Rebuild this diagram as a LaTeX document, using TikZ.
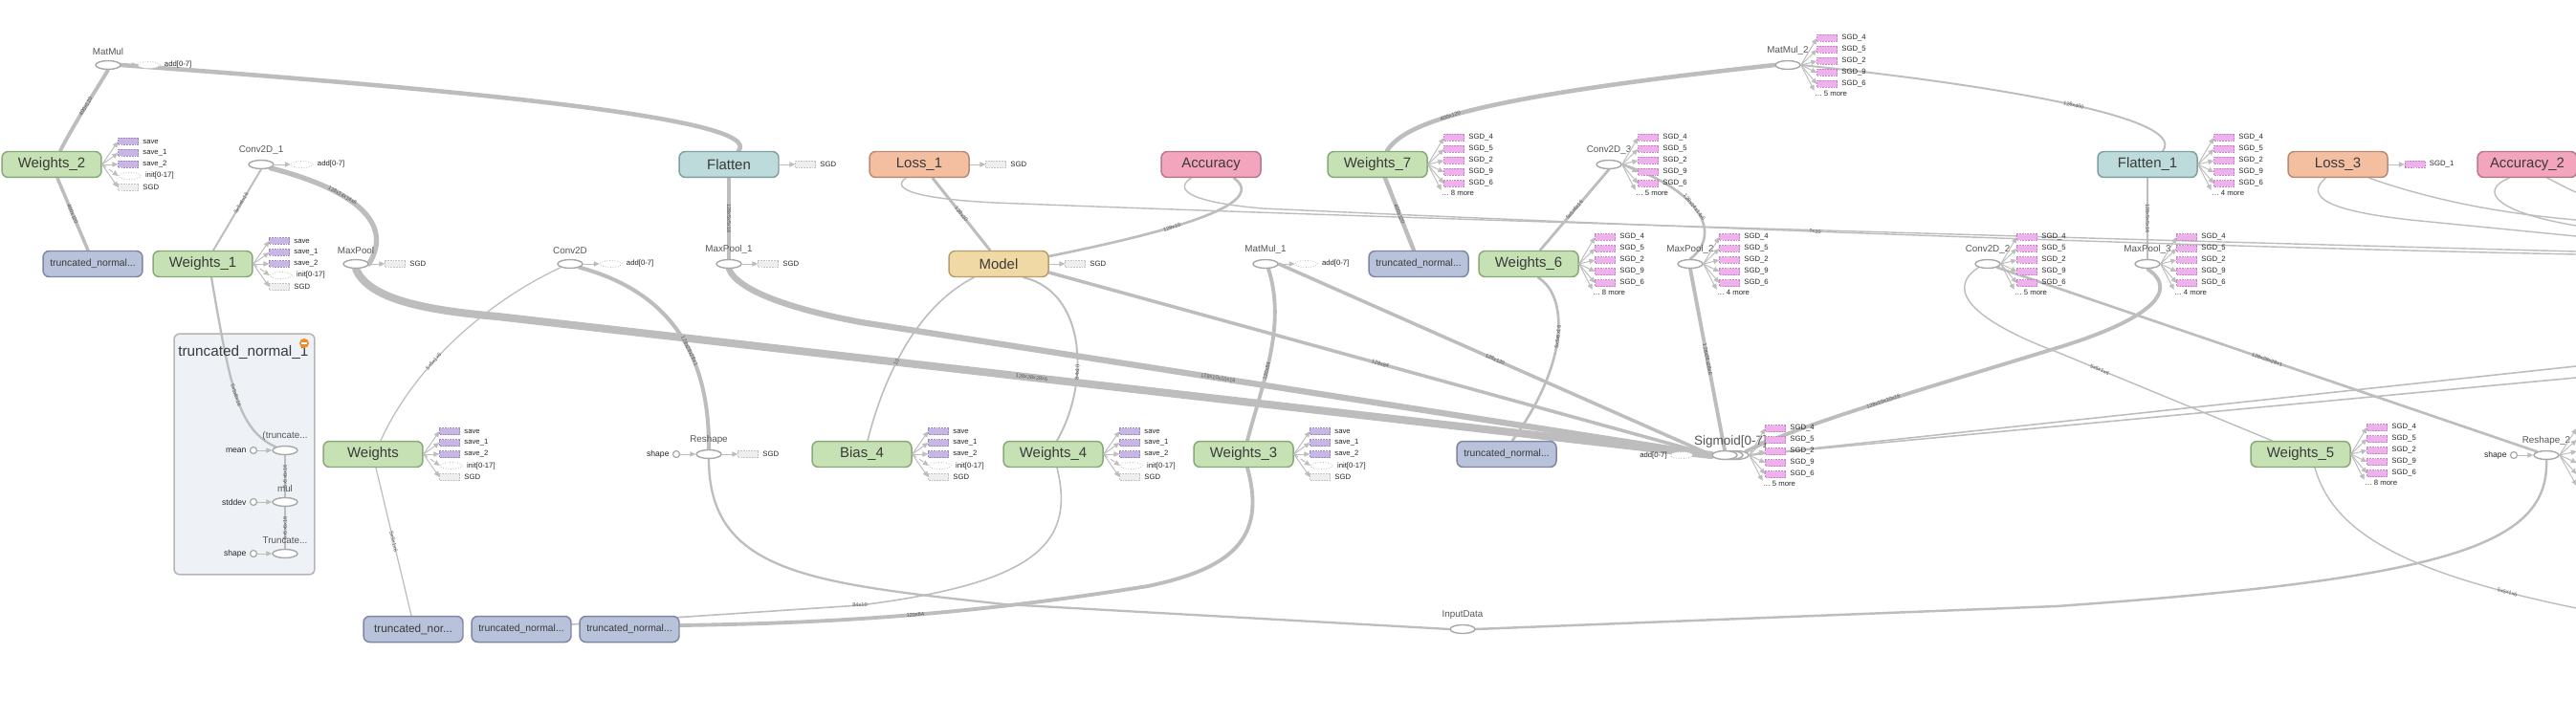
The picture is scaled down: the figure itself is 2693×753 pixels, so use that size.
\documentclass[tikz,border=0pt]{standalone}
\usepackage{fontspec}
\setmainfont{Liberation Sans}
\usepackage{tikz}
\usetikzlibrary{positioning, arrows.meta, calc, shapes.geometric}
\usepackage{xcolor}
\definecolor{tbVerde}{HTML}{C6E1B4}
\definecolor{tbVerdeB}{HTML}{89A87A}
\definecolor{tbAzul}{HTML}{BDDBDA}
\definecolor{tbAzulB}{HTML}{819F9E}
\definecolor{tbNaranja}{HTML}{F4BFA1}
\definecolor{tbNaranjaB}{HTML}{B88B76}
\definecolor{tbRosa}{HTML}{F3A5BE}
\definecolor{tbRosaB}{HTML}{B27A8B}
\definecolor{tbArena}{HTML}{F1D9A5}
\definecolor{tbArenaB}{HTML}{B59F6E}
\definecolor{tbLila}{HTML}{B8C2DB}
\definecolor{tbLilaB}{HTML}{7D87A1}
\definecolor{tbGrupo}{HTML}{EEF1F6}
\definecolor{tbGrupoB}{HTML}{B4B4B4}
\definecolor{tbArista}{HTML}{BDBDBD}
\definecolor{tbOp}{HTML}{A8A8A8}
\definecolor{tbMorado}{HTML}{C8B7E5}
\definecolor{tbMoradoB}{HTML}{9C88C4}
\definecolor{tbFucsia}{HTML}{EDB1EB}
\definecolor{tbFucsiaB}{HTML}{C783C4}
\definecolor{tbGris}{HTML}{EEEEEE}
\definecolor{tbGrisB}{HTML}{C2C2C2}
\definecolor{tbTexto}{HTML}{3A3A3A}
\definecolor{tbTextoOp}{HTML}{555555}
\definecolor{tbBoton}{HTML}{F08C25}
\pgfdeclarelayer{fondo}
\pgfdeclarelayer{aristas}
\pgfsetlayers{fondo,aristas,main}

\begin{document}
\begin{tikzpicture}[x=0.02cm, y=-0.02cm,
    bloque/.style={rounded corners=0.13cm, line width=0.85pt, minimum width=2.08cm, minimum height=0.54cm, inner sep=0pt, text=tbTexto, font=\fontsize{8.5}{9}\selectfont},
    pesos/.style={bloque, fill=tbVerde, draw=tbVerdeB},
    aplanar/.style={bloque, fill=tbAzul, draw=tbAzulB},
    perdida/.style={bloque, fill=tbNaranja, draw=tbNaranjaB},
    precision/.style={bloque, fill=tbRosa, draw=tbRosaB},
    modelo/.style={bloque, fill=tbArena, draw=tbArenaB},
    trunc/.style={bloque, fill=tbLila, draw=tbLilaB, font=\fontsize{5.9}{6}\selectfont},
    grupo/.style={rounded corners=0.12cm, line width=0.85pt, draw=tbGrupoB, fill=tbGrupo, minimum width=2.94cm, minimum height=5.04cm, inner sep=0pt},
    op/.style={ellipse, draw=tbOp, fill=white, line width=0.8pt, minimum width=0.52cm, minimum height=0.18cm, inner sep=0pt},
    opetq/.style={font=\fontsize{5.6}{6}\selectfont, text=tbTextoOp, inner sep=0pt},
    cte/.style={circle, draw=tbOp, fill=white, line width=0.7pt, minimum size=0.14cm, inner sep=0pt},
    etq/.style={font=\fontsize{4.4}{5}\selectfont, text=black!85, inner sep=0pt, anchor=west},
    morado/.style={draw=tbMoradoB, fill=tbMorado, dash pattern=on 1pt off 0.6pt, line width=0.4pt, minimum width=0.42cm, minimum height=0.14cm, inner sep=0pt},
    fucsia/.style={morado, draw=tbFucsiaB, fill=tbFucsia},
    gris/.style={morado, draw=tbGrisB, fill=tbGris},
    punteada/.style={ellipse, draw=tbGrisB, fill=white, densely dotted, line width=0.5pt, minimum width=0.46cm, minimum height=0.14cm, inner sep=0pt},
    arista/.style={draw=tbArista, line cap=round},
    fan/.style={draw=tbArista, line width=0.55pt, -{Triangle[length=3.4pt, width=3pt]}},
    lbl/.style={font=\fontsize{3.2}{3.5}\selectfont, text=tbTextoOp, sloped, inner sep=0.3pt}]

  \useasboundingbox (0,0) rectangle (2693,753);
  % Fondo y grupo truncated_normal_1
  \begin{pgfonlayer}{fondo}
    \fill[white] (0,0) rectangle (2693,753);
    \node[grupo] (grupo) at (255.5,475) {};
  \end{pgfonlayer}
  \node[opetq, font=\fontsize{8.7}{9}\selectfont, text=tbTexto, anchor=west] (grupoT) at (186,368) {truncated\_normal\_1};
  \node[circle, fill=tbBoton, minimum size=0.2cm, inner sep=0pt] (btn) at (318,359) {};
  \draw[white, line width=0.7pt] ($(btn.center)+(-2.8,0)$) -- ($(btn.center)+(2.8,0)$);

  % Fila superior
  \node[pesos] (w2) at (54,172) {Weights\_2};
  \node[aplanar] (fl) at (762,172) {Flatten};
  \node[perdida] (los1) at (961,172) {Loss\_1};
  \node[precision] (acc) at (1266,172) {Accuracy};
  \node[pesos] (w7) at (1440,172) {Weights\_7};
  \node[aplanar] (fl1) at (2245,172) {Flatten\_1};
  \node[perdida] (los3) at (2444,172) {Loss\_3};
  \node[precision] (acc2) at (2642,172) {Accuracy\_2};
  % Segunda fila
  \node[trunc] (tna) at (97,276) {truncated\_normal...};
  \node[pesos] (w1) at (212,276) {Weights\_1};
  \node[modelo] (mod) at (1044,276) {Model};
  \node[trunc] (tnb) at (1483,276) {truncated\_normal...};
  \node[pesos] (w6) at (1598,276) {Weights\_6};
  % Tercera fila
  \node[pesos] (wts) at (390,475) {Weights};
  \node[pesos] (b4) at (901,475) {Bias\_4};
  \node[pesos] (w4) at (1101,475) {Weights\_4};
  \node[pesos] (w3) at (1300,475) {Weights\_3};
  \node[trunc] (tnc) at (1575,475) {truncated\_normal...};
  \node[pesos] (w5) at (2405,475) {Weights\_5};
  % Fila inferior
  \node[trunc, font=\fontsize{6.7}{7}\selectfont] (tnd) at (432,658) {truncated\_nor...};
  \node[trunc] (tne) at (545,658) {truncated\_normal...};
  \node[trunc] (tnf) at (658,658) {truncated\_normal...};

  % Operaciones (elipses con su nombre encima)
  \foreach \n/\x/\y/\txt in {mm/113/68/MatMul, mm2/1869/68/MatMul\_2, c1/273/172/Conv2D\_1,
      c3/1682/172/Conv2D\_3, mp/372/276/MaxPool, c0/596/276/Conv2D, mp1/762/276/MaxPool\_1,
      mm1/1323/276/MatMul\_1, mp2/1767/276/MaxPool\_2, c2/2078/276/Conv2D\_2,
      mp3/2245/276/MaxPool\_3, rs/741/475/Reshape, rs2/2662/476/Reshape\_2,
      inp/1529/658/InputData, tmul/298/525/mul}{
    \node[op] (\n) at (\x,\y) {};
    \node[opetq, above=0.09cm of \n] (\n T) {\txt};
  }
  \node[op] (tr1) at (298,471) {};
  \node[opetq, above=0.09cm of tr1] (tr1T) {(truncate...};
  \node[op] (tr3) at (298,579) {};
  \node[opetq, above=0.09cm of tr3] (tr3T) {Truncate...};
  \node[op] (sig3) at (1815,476) {};
  \node[op] (sig2) at (1809,476) {};
  \node[op] (sig) at (1803,476) {};
  \node[opetq, font=\fontsize{7.7}{8}\selectfont, above=0.04cm of sig2] (sigT) {Sigmoid[0-7]};

  % Constantes de entrada
  \foreach \cc/\x/\y/\txt/\dst in {cmed/265/471/mean/tr1, cdes/265/525/stddev/tmul,
      cfor/265/579/shape/tr3, rsC/707/475/shape/rs, rs2C/2628/476/shape/rs2}{
    \node[cte] (\cc) at (\x,\y) {};
    \node[etq, anchor=east, font=\fontsize{4.9}{5}\selectfont] (\cc T) at ($(\cc.west)+(-3,0)$) {\txt};
    \draw[fan] (\cc) -- (\dst);
  }

  % Abanicos save / init / SGD
  \foreach \src in {w2,w1,wts,b4,w4,w3}{
    \foreach \txt [count=\i] in {save,save\_1,save\_2}{
      \node[morado] (\src s\i) at ($(\src.east)+(27.5,-36+12*\i)$) {};
      \node[etq] (\src st\i) at ($(\src s\i.east)+(4,0)$) {\txt};
      \draw[fan] (\src.east) -- (\src s\i.west);
    }
    \node[punteada] (\src s4) at ($(\src.east)+(29,12)$) {};
    \node[etq] (\src st4) at ($(\src s4.east)+(4,0)$) {init[0-17]};
    \draw[fan, densely dashed] (\src.east) -- (\src s4.west);
    \node[gris] (\src s5) at ($(\src.east)+(27.5,24)$) {};
    \node[etq] (\src st5) at ($(\src s5.east)+(4,0)$) {SGD};
    \draw[fan] (\src.east) -- (\src s5.west);
  }
  % Abanicos SGD_x
  \foreach \src/\mas in {w7/8, w6/8, c3/5, mp2/4, mm2/5, sig3/5, c2/5, fl1/4, mp3/4, w5/8}{
    \foreach \txt [count=\i] in {SGD\_4,SGD\_5,SGD\_2,SGD\_9,SGD\_6}{
      \node[fucsia] (\src r\i) at ($(\src.east)+(27.5,-40+12*\i)$) {};
      \node[etq] (\src rt\i) at ($(\src r\i.east)+(4,0)$) {\txt};
      \draw[fan] (\src.east) -- (\src r\i.west);
    }
    \node[etq] (\src rm) at ($(\src.east)+(14,30)$) {\ldots\ \mas\ more};
    \draw[fan] (\src.east) -- (\src rm.north west);
  }
  % Reshape_2: el abanico sale del cuadro
  \foreach \i in {1,...,6}{
    \coordinate (rs2f\i) at ($(rs2.east)+(18,-40+12*\i)$);
    \draw[fan] (rs2.east) -- (rs2f\i);
  }
  % Salidas sueltas
  \foreach \src in {mm,c1,c0,mm1}{
    \node[punteada] (\src A) at ($(\src.east)+(29,0)$) {};
    \node[etq] (\src AT) at ($(\src A.east)+(4,0)$) {add[0-7]};
    \draw[fan] (\src.east) -- (\src A.west);
  }
  \foreach \src in {mp,mp1,fl,los1,mod,rs}{
    \node[gris] (\src G) at ($(\src.east)+(27.5,0)$) {};
    \node[etq] (\src GT) at ($(\src G.east)+(4,0)$) {SGD};
    \draw[fan] (\src.east) -- (\src G.west);
  }
  \node[fucsia] (los3G) at ($(los3.east)+(28,0)$) {};
  \node[etq] (los3GT) at ($(los3G.east)+(4,0)$) {SGD\_1};
  \draw[fan] (los3.east) -- (los3G.west);
  \node[punteada] (sigA) at (1758,476) {};
  \node[etq, anchor=east] (sigAT) at (1743,476) {add[0-7]};
  \draw[fan] (sigA) -- (sig);

  % Extremos fuera del cuadro
  \coordinate (finL1) at (2693,263);
  \coordinate (finAc) at (2693,266);
  \coordinate (finL3a) at (2693,247);
  \coordinate (finL3b) at (2693,230);
  \coordinate (finA2a) at (2693,236);
  \coordinate (finA2b) at (2693,201);
  \coordinate (finS1) at (2693,383);
  \coordinate (finS2) at (2693,395);
  \coordinate (finW5) at (2693,636);

  \begin{pgfonlayer}{aristas}
    % Primera red
    \draw[arista, line width=2.6pt] (mm.east) .. controls (500,95) and (800,125) .. ($(fl.north)+(10,0)$);
    \draw[arista, line width=2.2pt] ($(w2.north)+(9,0)$) .. controls (80,125) and (100,95) .. (mm.south) node[lbl, pos=.5] (e1) {400x120};
    \draw[arista, line width=2pt] ($(w2.south)+(6,0)$) -- ($(tna.north)+(-5,0)$) node[lbl, midway] (e2) {400x120};
    \draw[arista, line width=1.1pt] ($(w1.north)+(11,0)$) .. controls (245,225) and (262,195) .. (c1.south) node[lbl, pos=.5] (e3) {5x5x6x16};
    \draw[arista, line width=3pt] (c1.south east) .. controls (395,205) and (405,245) .. (mp.east) node[lbl, pos=.3] (e4) {128x14x14x6};
    \draw[arista, line width=4.6pt] (mp.south) .. controls (385,312) and (440,324) .. (520,331) -- (sig.west) node[lbl, pos=.44] (e5) {128x28x28x6};
    \draw[arista, line width=3.6pt] (mp1.south) .. controls (770,302) and (820,322) .. (900,337) -- (sig.west) node[lbl, pos=.42] (e6) {128x10x10x16};
    \draw[arista, line width=2.4pt] (fl.south) -- (mp1.north) node[lbl, midway] (e7) {128x5x5x16};
    \draw[arista, line width=1.7pt] ($(los1.south)+(14,0)$) -- ($(mod.north)+(-9,0)$) node[lbl, midway] (e8) {128x10};
    \draw[arista, line width=1.5pt] ($(mod.east)+(0,-8)$) .. controls (1210,245) and (1330,215) .. ($(acc.south)+(24,0)$) node[lbl, pos=.4] (e9) {128x10};
    \draw[arista, line width=2pt] ($(mod.east)+(0,9)$) -- (sig.west) node[lbl, pos=.5] (e10) {128x84};
    \draw[arista, line width=2pt] (mm1.east) -- (sig.west) node[lbl, pos=.5] (e11) {128x120};
    \draw[arista, line width=0.9pt] ($(mod.south)+(-26,0)$) .. controls (960,320) and (925,390) .. ($(b4.north)+(6,0)$) node[lbl, pos=.6] (e12) {10};
    \draw[arista, line width=1.1pt] ($(mod.south)+(26,0)$) .. controls (1135,305) and (1140,400) .. ($(w4.north)+(4,0)$) node[lbl, pos=.65] (e13) {84x10};
    \draw[arista, line width=2.2pt] ($(mm1.south)+(3,0)$) .. controls (1345,340) and (1320,400) .. ($(w3.north)+(4,0)$) node[lbl, pos=.6] (e14) {120x84};
    \draw[arista, line width=2.2pt] ($(w3.south)+(4,0)$) .. controls (1325,565) and (1285,595) .. (1200,613) .. controls (1000,645) and (850,652) .. ($(tnf.east)+(0,-4)$) node[lbl, pos=.45] (e15) {120x84};
    \draw[arista, line width=0.9pt] ($(w4.south)+(4,0)$) .. controls (1125,570) and (1080,610) .. (899,633) node[lbl] (e16) {84x10} -- ($(tne.east)+(0,-5)$);
    \draw[arista, line width=0.7pt] ($(wts.south)+(3,0)$) -- ($(tnd.north)+(-2,0)$) node[lbl, pos=.5] (e17) {5x5x1x6};
    \draw[arista, line width=0.7pt] ($(wts.north)+(8,0)$) .. controls (430,390) and (500,320) .. (c0.south west) node[lbl, pos=.4] (e18) {5x5x1x6};
    \draw[arista, line width=2.3pt] (c0.south east) .. controls (700,305) and (742,370) .. (rs.north) node[lbl, pos=.6] (e19) {128x28x28x1};
    \draw[arista, line width=1.3pt] (rs.south) .. controls (741,600) and (850,610) .. (1050,632) -- (inp.west);
    \draw[arista, line width=1.3pt] ($(w1.south)+(9,0)$) .. controls (240,400) and (248,450) .. (tr1.north west) node[lbl, pos=.5] (e20) {5x5x6x16};
    \draw[arista, line width=1.2pt] (tr3.north) -- (tmul.south) node[lbl, midway] (e21) {5x5x6x16};
    \draw[arista, line width=1.2pt] (tmul.north) -- (tr1.south) node[lbl, midway] (e22) {5x5x6x16};
    % Bucles de Loss y Accuracy
    \draw[arista, line width=0.8pt] ($(los1.south)+(-14,0)$) .. controls (930,198) and (960,208) .. (1040,212) .. controls (1500,230) and (2200,250) .. (finL1);
    \draw[arista, line width=0.8pt] ($(acc.south)+(-21,0)$) .. controls (1225,200) and (1250,212) .. (1320,218) .. controls (1800,240) and (2300,258) .. (finAc) node[lbl, pos=.4] (e23) {?x10};
    \draw[arista, line width=0.8pt] ($(los3.south)+(-13,0)$) .. controls (2410,205) and (2430,220) .. (2520,230) -- (finL3a);
    \draw[arista, line width=0.8pt] ($(los3.south)+(33,0)$) .. controls (2530,205) and (2600,222) .. (finL3b);
    \draw[arista, line width=0.8pt] ($(acc2.south)+(-19,0)$) .. controls (2590,200) and (2610,222) .. (finA2a);
    \draw[arista, line width=0.8pt] ($(acc2.south)+(21,0)$) .. controls (2675,192) and (2685,198) .. (finA2b);
    % Segunda red
    \draw[arista, line width=2.6pt] ($(w7.north)+(10,0)$) .. controls (1470,125) and (1560,100) .. (mm2.west) node[lbl, pos=.4] (e24) {400x120};
    \draw[arista, line width=2.5pt] ($(w7.south)+(8,0)$) -- ($(tnb.north)+(-5,0)$) node[lbl, midway] (e25) {400x120};
    \draw[arista, line width=1.6pt] ($(w6.north)+(12,0)$) -- (c3.south) node[lbl, midway] (e26) {5x5x6x16};
    \draw[arista, line width=1.5pt] ($(w6.south)+(10,0)$) .. controls (1640,310) and (1640,380) .. ($(tnc.north)+(6,0)$) node[lbl, pos=.5] (e27) {5x5x6x16};
    \draw[arista, line width=1.5pt] (c3.east) .. controls (1780,200) and (1800,245) .. (mp2.north) node[lbl, pos=.45] (e28) {128x14x14x6};
    \draw[arista, line width=2.2pt] (mp2.south) -- (sig.north) node[lbl, pos=.5] (e29) {128x28x28x6};
    \draw[arista, line width=2.2pt] (mp3.south) .. controls (2280,305) and (2245,335) .. (2150,364) .. controls (2000,410) and (1880,445) .. (sig3.north east) node[lbl, pos=.45] (e30) {128x10x10x16};
    \draw[arista, line width=0.9pt] (sig3.east) -- (finS1);
    \draw[arista, line width=0.9pt] (sig3.east) -- (finS2);
    \draw[arista, line width=1.1pt] (mm2.east) .. controls (2050,85) and (2290,120) .. ($(fl1.north)+(16,0)$) node[lbl, pos=.55] (e31) {128x400};
    \draw[arista, line width=1.1pt] (fl1.south) -- (mp3.north) node[lbl, midway] (e32) {128x5x5x16};
    \draw[arista, line width=1.5pt] (c2.south east) -- (rs2.north west) node[lbl, pos=.5] (e33) {128x28x28x1};
    \draw[arista, line width=0.8pt] (c2.south west) .. controls (2030,305) and (2070,338) .. (2150,368) -- ($(w5.north)+(-30,0)$) node[lbl, pos=.2] (e34) {5x5x1x6};
    \draw[arista, line width=0.8pt] ($(w5.south)+(15,0)$) .. controls (2440,560) and (2520,600) .. (finW5) node[lbl, pos=.85] (e35) {5x5x1x6};
    \draw[arista, line width=1.4pt] (rs2.south) .. controls (2665,570) and (2560,605) .. (2150,634) -- (inp.east);
  \end{pgfonlayer}
\end{tikzpicture}
\end{document}
